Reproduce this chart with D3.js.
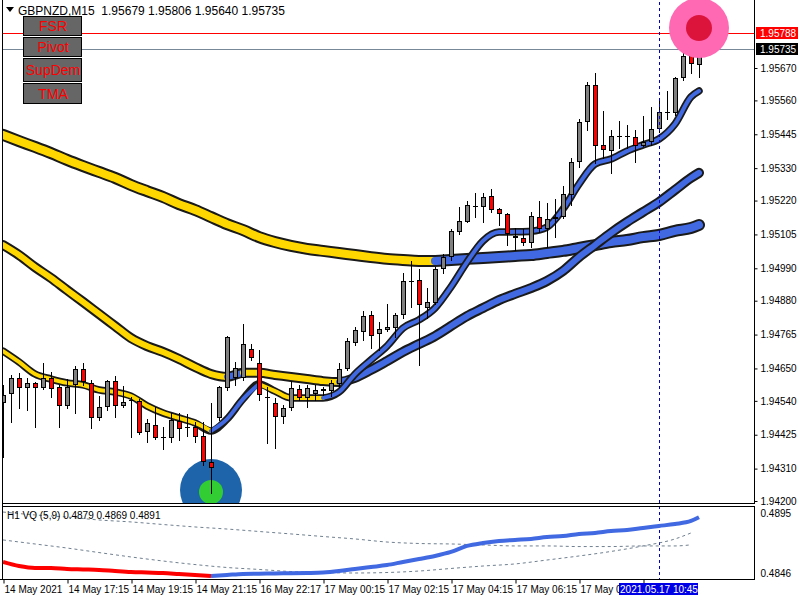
<!DOCTYPE html>
<html><head><meta charset="utf-8">
<script src="https://cdn.jsdelivr.net/npm/d3@7"></script>
<style>
body{margin:0;background:#fff;}
svg{display:block;}
text{font-family:"Liberation Sans",Arial,sans-serif;}
</style>
</head><body>
<svg id="c" width="800" height="600"></svg>
<script>
// ---------------- DATA ----------------
const symbolTitle = "GBPNZD,M15  1.95679 1.95806 1.95640 1.95735";
const opens = [1.94533,1.94563,1.94618,1.94584,1.94601,1.94584,1.94618,1.94587,1.94523,1.94594,
1.94648,1.94601,1.94482,1.94519,1.94607,1.94523,1.94543,1.94540,1.94434,1.94458,
1.94417,1.94414,1.94472,1.94451,1.94451,1.94421,1.94332,1.94482,1.94584,1.94618,
1.94618,1.94716,1.94669,1.94553,1.94533,1.94485,1.94516,1.94580,1.94550,1.94563,
1.94580,1.94573,1.94597,1.94648,1.94736,1.94774,1.94831,1.94767,1.94781,1.94787,
1.94831,1.94947,1.94950,1.94855,1.94872,1.94988,1.95028,1.95113,1.95147,1.95202,
1.95198,1.95236,1.95191,1.95174,1.95100,1.95093,1.95076,1.95164,1.95123,1.95157,
1.95164,1.95239,1.95351,1.95487,1.95612,1.95409,1.95388,1.95439,1.95439,1.95436,
1.95405,1.95419,1.95463,1.95521,1.95517,1.95636,1.95718,1.95679];
const highs = [1.94594,1.94628,1.94635,1.94618,1.94604,1.94669,1.94638,1.94594,1.94614,1.94658,
1.94669,1.94611,1.94556,1.94611,1.94624,1.94590,1.94553,1.94546,1.94478,1.94519,
1.94451,1.94499,1.94499,1.94495,1.94468,1.94468,1.94533,1.94590,1.94760,1.94672,
1.94801,1.94733,1.94713,1.94587,1.94550,1.94526,1.94607,1.94594,1.94594,1.94594,
1.94587,1.94611,1.94669,1.94753,1.94791,1.94845,1.94845,1.94808,1.94869,1.94838,
1.94974,1.95015,1.94988,1.94923,1.94994,1.95039,1.95123,1.95198,1.95219,1.95246,
1.95246,1.95259,1.95195,1.95178,1.95127,1.95123,1.95181,1.95219,1.95212,1.95225,
1.95269,1.95365,1.95497,1.95623,1.95653,1.95524,1.95460,1.95490,1.95477,1.95460,
1.95507,1.95538,1.95565,1.95592,1.95640,1.95721,1.95802,1.95806];
const lows = [1.94349,1.94468,1.94516,1.94509,1.94451,1.94580,1.94553,1.94451,1.94516,1.94499,
1.94594,1.94448,1.94475,1.94509,1.94485,1.94519,1.94417,1.94427,1.94400,1.94410,
1.94376,1.94400,1.94407,1.94421,1.94400,1.94322,1.94227,1.94475,1.94577,1.94594,
1.94611,1.94679,1.94543,1.94397,1.94380,1.94465,1.94509,1.94543,1.94519,1.94543,
1.94560,1.94556,1.94587,1.94645,1.94730,1.94747,1.94719,1.94713,1.94777,1.94757,
1.94821,1.94859,1.94662,1.94821,1.94869,1.94974,1.95018,1.95106,1.95147,1.95164,
1.95147,1.95181,1.95137,1.95069,1.95052,1.95069,1.95062,1.95113,1.95062,1.95096,
1.95161,1.95205,1.95334,1.95460,1.95348,1.95365,1.95314,1.95398,1.95398,1.95351,
1.95405,1.95409,1.95453,1.95497,1.95510,1.95629,1.95653,1.95640];
const closes = [1.94560,1.94618,1.94584,1.94601,1.94584,1.94618,1.94580,1.94523,1.94587,1.94648,
1.94604,1.94482,1.94519,1.94607,1.94523,1.94536,1.94543,1.94431,1.94465,1.94414,
1.94417,1.94475,1.94444,1.94451,1.94417,1.94332,1.94312,1.94587,1.94757,1.94652,
1.94733,1.94685,1.94560,1.94553,1.94485,1.94516,1.94584,1.94550,1.94584,1.94577,
1.94573,1.94601,1.94648,1.94743,1.94781,1.94828,1.94760,1.94784,1.94791,1.94831,
1.94947,1.94947,1.94865,1.94876,1.94988,1.95028,1.95117,1.95151,1.95205,1.95202,
1.95232,1.95188,1.95174,1.95106,1.95093,1.95076,1.95168,1.95123,1.95157,1.95164,
1.95242,1.95351,1.95487,1.95612,1.95405,1.95392,1.95439,1.95439,1.95439,1.95405,
1.95419,1.95463,1.95521,1.95521,1.95636,1.95711,1.95684,1.95735];

// moving averages, sampled every 2 bars (last sample = last bar)
const maFast = [1.94709,1.94672,1.94631,1.94614,1.94601,1.94594,1.94577,1.94570,1.94556,1.94523,
1.94499,1.94482,1.94465,1.94438,1.94478,1.94546,1.94597,1.94573,1.94550,1.94550,
1.94550,1.94570,1.94631,1.94679,1.94726,1.94787,1.94815,1.94855,1.94927,1.95011,
1.95083,1.95113,1.95114,1.95116,1.95130,1.95191,1.95276,1.95344,1.95361,1.95388,
1.95409,1.95429,1.95480,1.95572,1.95592];
const maMid = [1.95069,1.95035,1.94994,1.94957,1.94916,1.94876,1.94835,1.94794,1.94753,1.94726,
1.94706,1.94682,1.94655,1.94631,1.94621,1.94635,1.94635,1.94628,1.94621,1.94614,
1.94607,1.94604,1.94618,1.94645,1.94675,1.94706,1.94733,1.94760,1.94794,1.94828,
1.94855,1.94882,1.94903,1.94923,1.94947,1.94981,1.95028,1.95069,1.95110,1.95147,
1.95181,1.95215,1.95256,1.95297,1.95314];
const maSlow = [1.95443,1.95422,1.95402,1.95381,1.95358,1.95337,1.95317,1.95297,1.95273,1.95252,
1.95232,1.95208,1.95188,1.95164,1.95140,1.95120,1.95096,1.95079,1.95066,1.95056,
1.95049,1.95042,1.95035,1.95028,1.95022,1.95018,1.95015,1.95015,1.95018,1.95022,
1.95025,1.95028,1.95032,1.95035,1.95042,1.95049,1.95059,1.95069,1.95079,1.95086,
1.95096,1.95103,1.95117,1.95127,1.95137];

// H1 VQ sub-window, main line every 2 bars, signal lines every 4 bars
const vqMain = [0.48550,0.48517,0.48501,0.48501,0.48493,0.48489,0.48485,0.48476,0.48468,0.48464,
0.48460,0.48452,0.48444,0.48436,0.48444,0.48452,0.48454,0.48456,0.48458,0.48460,
0.48464,0.48476,0.48493,0.48509,0.48525,0.48550,0.48574,0.48599,0.48632,0.48681,
0.48705,0.48721,0.48730,0.48738,0.48754,0.48762,0.48779,0.48787,0.48803,0.48811,
0.48828,0.48844,0.48860,0.48885,0.48915];
const vqSlow = [0.48958,0.48934,0.48917,0.48893,0.48877,0.48856,0.48836,0.48819,0.48799,0.48779,
0.48758,0.48738,0.48713,0.48701,0.48697,0.48689,0.48681,0.48681,0.48676,0.48676,
0.48681,0.48681,0.48690];
const vqFast = [0.48730,0.48697,0.48664,0.48627,0.48591,0.48558,0.48529,0.48505,0.48489,0.48472,
0.48464,0.48460,0.48464,0.48476,0.48497,0.48517,0.48534,0.48566,0.48599,0.48636,
0.48681,0.48738,0.48787];

const priceTicks = [1.95670,1.95560,1.95445,1.95330,1.95220,1.95105,1.94990,1.94880,1.94765,1.94650,1.94540,1.94425,1.94310,1.94200];
const vqTicks = [0.4895,0.4846];
const timeTickBars = [0,8,16,24,32,40,48,56,64,72,80];
const timeLabels = ["14 May 2021","14 May 17:15","14 May 19:15","14 May 21:15","16 May 22:17","17 May 00:15","17 May 02:15","17 May 04:15","17 May 06:15","17 May 08:15","17 May 10:15"];
const cursorBar = 82, cursorLabel = "2021.05.17 10:45";
const levelRed = 1.95788, levelBid = 1.95735;
const buyBar = 26, buyPrice = 1.94227;
const sellBar = 87, sellPrice = 1.95806;
const buttons = ["FSR","Pivot","SupDem","TMA"];
const vqTitle = "H1 VQ (5,9) 0.4879 0.4869 0.4891";

// ---------------- SCALES ----------------
const svg = d3.select("#c");
const nBars = closes.length;
const x = d3.scaleLinear().domain([0, nBars-1]).range([3, 699]);
const y = d3.scaleLinear().domain([1.94200, 1.95670]).range([501, 68]);
const ys = d3.scaleLinear().domain([0.4846, 0.4895]).range([573, 513]);
const ma2 = i => Math.min(i*2, nBars-1);
const vq4 = (i, n) => i === n-1 ? 86 : i*4;

const GOLD = "#FFD700", BLUE = "#4169E1";

const defs = svg.append("defs");
defs.append("clipPath").attr("id","cm").append("rect").attr("x",3).attr("y",0).attr("width",751).attr("height",503);
defs.append("clipPath").attr("id","cs").append("rect").attr("x",3).attr("y",507).attr("width",751).attr("height",72);
const cursorLeft = x(cursorBar) - 40;
defs.append("clipPath").attr("id","ct").append("rect").attr("x",0).attr("y",580).attr("width",cursorLeft).attr("height",20);

const main = svg.append("g").attr("clip-path","url(#cm)");

// level lines
main.append("line").attr("x1",3).attr("x2",754).attr("y1",Math.round(y(levelRed))+0.5).attr("y2",Math.round(y(levelRed))+0.5)
  .attr("stroke","#FF0000").attr("shape-rendering","crispEdges");
main.append("line").attr("x1",3).attr("x2",754).attr("y1",Math.round(y(levelBid))+0.5).attr("y2",Math.round(y(levelBid))+0.5)
  .attr("stroke","#778899").attr("shape-rendering","crispEdges");

// signal circles
svg.append("circle").attr("cx",x(sellBar)).attr("cy",y(sellPrice)).attr("r",30).attr("fill","#FF69B4");
svg.append("circle").attr("cx",x(sellBar)).attr("cy",y(sellPrice)).attr("r",13).attr("fill","#DC143C");
main.append("circle").attr("cx",x(buyBar)).attr("cy",y(buyPrice)-3).attr("r",31).attr("fill","#1E64AA");
main.append("circle").attr("cx",x(buyBar)).attr("cy",y(buyPrice)-1).attr("r",12).attr("fill","#32CD32");

// runs of rising/falling
function runs(vals, xi, ysc) {
  const out = [];
  for (let i=1;i<vals.length;i++){
    const up = vals[i] > vals[i-1];
    const last = out[out.length-1];
    const p = [x(xi(i)), ysc(vals[i])];
    if (last && last.up === up) last.pts.push(p);
    else out.push({up, pts:[[x(xi(i-1)), ysc(vals[i-1])], p]});
  }
  return out;
}
const curve = d3.line().curve(d3.curveMonotoneX);
function drawMA(vals, w, ow) {
  const pts = vals.map((v,i)=>[x(ma2(i)), y(v)]);
  main.append("path").attr("d",curve(pts)).attr("fill","none").attr("stroke","#1a1a1a")
    .attr("stroke-width",ow).attr("stroke-linecap","round").attr("stroke-linejoin","round");
  runs(vals, ma2, y).forEach(r=>{
    main.append("path").attr("d",curve(r.pts)).attr("fill","none").attr("stroke", r.up?BLUE:GOLD)
      .attr("stroke-width",w).attr("stroke-linecap","round").attr("stroke-linejoin","round");
  });
}
drawMA(maSlow, 8, 12);
drawMA(maMid, 6, 10);
drawMA(maFast, 4, 7.5);

// cursor line
svg.append("line").attr("x1",x(cursorBar)+0.5).attr("x2",x(cursorBar)+0.5).attr("y1",2).attr("y2",579)
  .attr("stroke","#0000CC").attr("stroke-dasharray","3,3");

// candles
const cg = main.append("g").attr("shape-rendering","crispEdges");
closes.forEach((c,i)=>{
  const cx = Math.round(x(i))+0.5;
  cg.append("line").attr("x1",cx).attr("x2",cx).attr("y1",Math.round(y(highs[i]))).attr("y2",Math.round(y(lows[i]))+1).attr("stroke","#000");
  const o = opens[i];
  const yt = Math.round(y(Math.max(o,c))), yb = Math.round(y(Math.min(o,c)));
  if (yb - yt < 2) {
    cg.append("rect").attr("x",cx-2.5).attr("y",yt).attr("width",5).attr("height",Math.max(1,yb-yt)).attr("fill","#000");
  } else {
    cg.append("rect").attr("x",cx-2).attr("y",yt+0.5).attr("width",4).attr("height",yb-yt-1)
      .attr("fill", c>=o ? "#808080" : "#FF0000").attr("stroke","#000").attr("stroke-width",1);
  }
});

// ---------------- SUB WINDOW ----------------
const sub = svg.append("g").attr("clip-path","url(#cs)");
const vqLine = d3.line().curve(d3.curveMonotoneX);
[vqSlow, vqFast].forEach(arr=>{
  sub.append("path").attr("d", vqLine(arr.map((v,i)=>[x(vq4(i,arr.length)), ys(v)])))
    .attr("fill","none").attr("stroke","#708090").attr("stroke-width",1).attr("stroke-dasharray","3,3");
});
runs(vqMain, ma2, ys).forEach(r=>{
  sub.append("path").attr("d",vqLine(r.pts)).attr("fill","none").attr("stroke", r.up?BLUE:"#FF0000")
    .attr("stroke-width",4);
});
sub.append("text").attr("x",7).attr("y",519).attr("font-size",10).attr("fill","#000").text(vqTitle);

// ---------------- FRAMES & AXES ----------------
const fr = svg.append("g").attr("stroke","#000").attr("shape-rendering","crispEdges");
fr.append("line").attr("x1",2.5).attr("x2",2.5).attr("y1",0).attr("y2",580);
fr.append("line").attr("x1",754.5).attr("x2",754.5).attr("y1",0).attr("y2",504);
fr.append("line").attr("x1",754.5).attr("x2",754.5).attr("y1",506).attr("y2",580);
fr.append("line").attr("x1",2).attr("x2",755).attr("y1",503.5).attr("y2",503.5);
fr.append("line").attr("x1",2).attr("x2",755).attr("y1",506.5).attr("y2",506.5);
fr.append("line").attr("x1",0).attr("x2",755).attr("y1",579.5).attr("y2",579.5);

const ax = svg.append("g").attr("transform","translate(754.5,0)")
  .call(d3.axisRight(y).tickValues(priceTicks).tickSize(3).tickPadding(3).tickFormat(d3.format(".5f")));
ax.select(".domain").remove();
ax.selectAll("text").attr("font-size",10).attr("font-family","Liberation Sans, Arial, sans-serif").attr("fill","#000");

const axs = svg.append("g").attr("transform","translate(754.5,0)")
  .call(d3.axisRight(ys).tickValues(vqTicks).tickSize(0).tickPadding(6).tickFormat(d3.format(".4f")));
axs.select(".domain").remove();
axs.selectAll("text").attr("font-size",10).attr("font-family","Liberation Sans, Arial, sans-serif").attr("fill","#000");

const axb = svg.append("g").attr("transform","translate(0,579.5)")
  .call(d3.axisBottom(x).tickValues(timeTickBars).tickSize(4).tickPadding(3).tickFormat((d,i)=>timeLabels[i]));
axb.select(".domain").remove();
axb.selectAll(".tick line").attr("transform","translate(0.5,0)");
axb.selectAll("text").attr("font-size",10).attr("text-anchor","start").attr("dx",1).attr("dy","0.6em")
  .attr("font-family","Liberation Sans, Arial, sans-serif").attr("fill","#000");
// labels hidden behind the cursor time label are clipped there
axb.selectAll(".tick").filter(d => x(d) > cursorLeft).select("text").remove();
axb.selectAll(".tick").filter(d => x(d) + 60 > cursorLeft && x(d) <= cursorLeft).each(function(){
  const t = d3.select(this).select("text");
  const full = t.text();
  t.text(full.slice(0, 8));
});

// price tags
function tag(price, bg) {
  const yy = Math.round(y(price));
  svg.append("rect").attr("x",756).attr("y",yy-6).attr("width",42).attr("height",12).attr("fill",bg);
  svg.append("text").attr("x",760).attr("y",yy+4).attr("font-size",10).attr("fill","#fff").text(d3.format(".5f")(price));
}
tag(levelRed, "#FF0000");
tag(levelBid, "#000000");

// cursor time label
const cxl = x(cursorBar);
svg.append("rect").attr("x",cursorLeft).attr("y",583).attr("width",79).attr("height",12).attr("fill","#0000E6");
svg.append("text").attr("x",cxl).attr("y",593).attr("text-anchor","middle").attr("font-size",10).attr("fill","#fff").text(cursorLabel);

// buttons
const btnY = [16,37,58,83], btnH = [19,19,23,20];
buttons.forEach((b,i)=>{
  svg.append("rect").attr("x",23.5).attr("y",btnY[i]+0.5).attr("width",58).attr("height",btnH[i])
    .attr("fill","#666666").attr("stroke","#000");
  svg.append("text").attr("x",53).attr("y",btnY[i]+btnH[i]/2+5.5).attr("text-anchor","middle")
    .attr("font-size",14).attr("fill","#FF0000").text(b);
});

// title
svg.append("path").attr("d","M6,7 L14,7 L10,12 Z").attr("fill","#000");
svg.append("text").attr("x",18).attr("y",15).attr("font-size",12).attr("fill","#000").attr("xml:space","preserve").text(symbolTitle);
</script>
</body></html>
